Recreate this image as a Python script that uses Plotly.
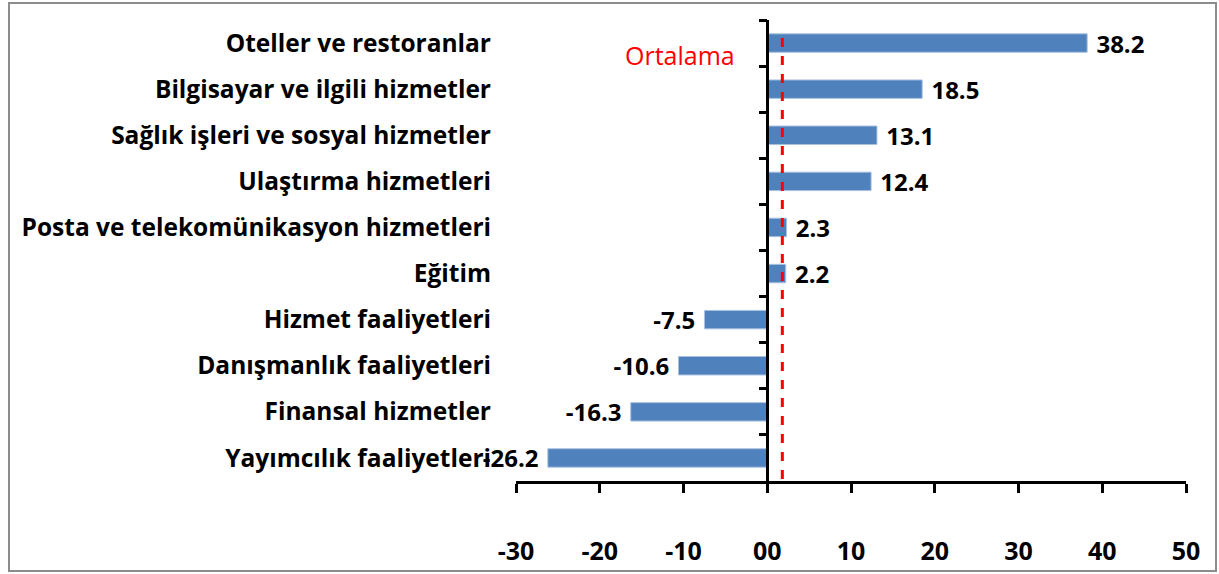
import plotly.graph_objects as go

categories = [
    "Oteller ve restoranlar",
    "Bilgisayar ve ilgili hizmetler",
    "Sağlık işleri ve sosyal hizmetler",
    "Ulaştırma hizmetleri",
    "Posta ve telekomünikasyon hizmetleri",
    "Eğitim",
    "Hizmet faaliyetleri",
    "Danışmanlık faaliyetleri",
    "Finansal hizmetler",
    "Yayımcılık faaliyetleri",
]
values = [38.2, 18.5, 13.1, 12.4, 2.3, 2.2, -7.5, -10.6, -16.3, -26.2]
average = 1.8
average_label = "Ortalama"
x_tickvals = [-30, -20, -10, 0, 10, 20, 30, 40, 50]
x_ticktext = ["-30", "-20", "-10", "00", "10", "20", "30", "40", "50"]

FONT = "Open Sans"
W, H = 1219, 574
L, R, T, B = 516, 33, 20, 93
pw, ph = W - L - R, H - T - B

def px_x(p):
    return (p - L) / pw

def px_y(p):
    return (H - B - p) / ph

labels = [(" " + f"{v:.1f}") if v >= 0 else (f"{v:.1f}" + " ") for v in values]

fig = go.Figure()
fig.add_trace(go.Bar(
    x=values, y=categories, orientation="h",
    marker=dict(color="#4F81BD", line=dict(color="#A9C1E0", width=1)),
    width=0.4,
    text=labels,
    textposition="outside",
    constraintext="none",
    textfont=dict(family=FONT, size=24, color="black", weight="bold"),
    cliponaxis=False,
    hoverinfo="skip",
))
fig.add_trace(go.Scatter(
    x=[0] * len(categories), y=categories, yaxis="y2",
    mode="markers", marker=dict(opacity=0), hoverinfo="skip", showlegend=False,
))

fig.update_layout(
    width=W, height=H,
    margin=dict(l=L, r=R, t=T, b=B, pad=0),
    paper_bgcolor="white", plot_bgcolor="white",
    showlegend=False,
    xaxis=dict(
        range=[-30, 50], tickvals=x_tickvals, ticktext=x_ticktext,
        showgrid=False, zeroline=False, automargin=False,
        showline=True, linecolor="black", linewidth=2.5,
        ticks="outside", ticklen=9, tickwidth=2.5, tickcolor="black",
        ticklabelstandoff=37,
        tickfont=dict(family=FONT, size=25, color="black", weight="bold"),
    ),
    yaxis=dict(
        type="category", categoryorder="array", categoryarray=categories,
        range=[9.5, -0.5], showgrid=False, zeroline=False, showline=False,
        automargin=False, ticks="", ticklabelstandoff=24,
        tickfont=dict(family=FONT, size=24.5, color="black", weight="bold"),
    ),
    yaxis2=dict(
        type="category", categoryorder="array", categoryarray=categories,
        range=[9.5, -0.5], overlaying="y", anchor="free", position=30 / 80,
        side="left", showgrid=False, zeroline=False, automargin=False,
        showline=True, linecolor="black", linewidth=2.5,
        ticks="outside", tickson="boundaries", ticklen=8, tickwidth=2.5,
        tickcolor="black", showticklabels=False,
    ),
    shapes=[
        dict(type="line", xref="x", yref="paper", x0=average, x1=average,
             y0=px_y(38), y1=px_y(487),
             line=dict(color="#FF0000", width=3, dash="dash")),
        dict(type="rect", xref="paper", yref="paper",
             x0=px_x(9), x1=px_x(1216), y0=px_y(3), y1=px_y(571),
             line=dict(color="#8C8C8C", width=2), fillcolor="rgba(0,0,0,0)",
             layer="below"),
    ],
    annotations=[
        dict(text=average_label, x=-10.4, xref="x", y=px_y(55), yref="paper",
             xanchor="center", yanchor="middle",
             showarrow=False, font=dict(family=FONT, size=25, color="#FF0000")),
    ],
)

fig.write_html("out.html", config={"displayModeBar": False},
               post_script="document.body.style.margin='0';")
